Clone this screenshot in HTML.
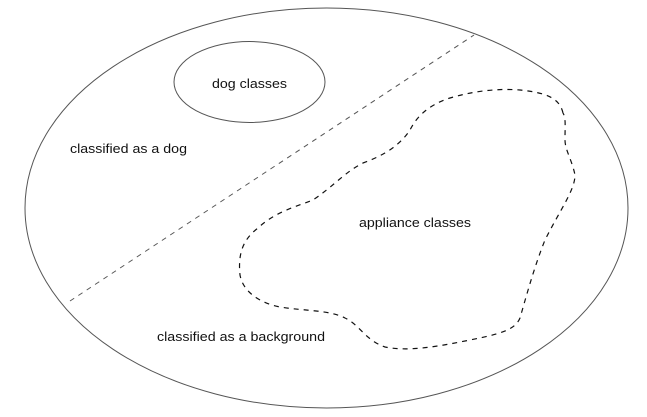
<!DOCTYPE html>
<html><head><meta charset="utf-8"><style>html,body{margin:0;padding:0;background:#fff}svg{display:block}</style></head>
<body>
<svg width="647" height="417" xmlns="http://www.w3.org/2000/svg" font-family="Liberation Sans, sans-serif" font-size="13" fill="#111">
<ellipse cx="326.5" cy="208" rx="301.5" ry="200" fill="none" stroke="#555" stroke-width="1"/>
<ellipse cx="249.5" cy="82" rx="75.5" ry="40.5" fill="none" stroke="#555" stroke-width="1"/>
<line x1="70" y1="301" x2="474" y2="35" stroke="#555" stroke-width="1" stroke-dasharray="5,5"/>
<path d="M563,113 C560,100 550,93 520,90 C495,88 470,92 450,98 C425,106 415,120 410,130 C400,145 385,155 363,163 C345,172 335,185 313,200 C295,207 275,212 258,228 C242,240 238,255 240,275 C243,292 260,303 280,307 C305,311 330,310 345,318 C360,325 365,340 385,347 C410,352 440,346 470,340 C500,334 515,330 520,318 C528,290 535,265 545,240 C560,210 575,190 575,175 C572,160 565,150 565,140 C565,125 566,118 563,113 Z" fill="none" stroke="#111" stroke-width="1.2" stroke-dasharray="5,5"/>
<text x="212" y="88" textLength="75" lengthAdjust="spacingAndGlyphs">dog classes</text>
<text x="70" y="153" textLength="117" lengthAdjust="spacingAndGlyphs">classified as a dog</text>
<text x="359" y="227" textLength="112" lengthAdjust="spacingAndGlyphs">appliance classes</text>
<text x="157" y="341" textLength="168" lengthAdjust="spacingAndGlyphs">classified as a background</text>
</svg>
</body></html>
